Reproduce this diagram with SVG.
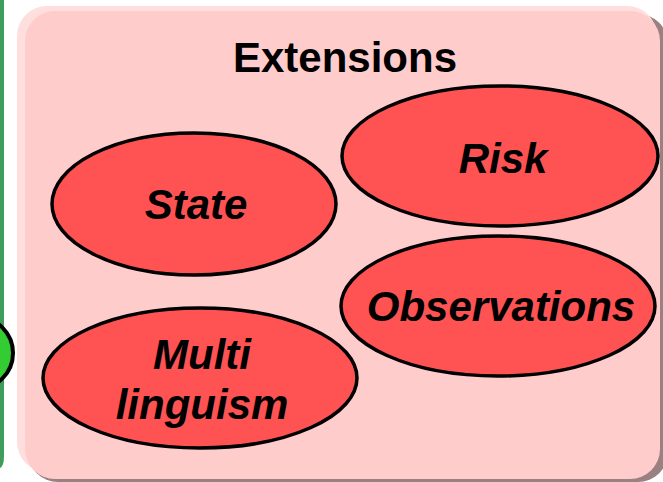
<svg xmlns="http://www.w3.org/2000/svg" width="663" height="482" viewBox="0 0 663 482">
  <style>
    .ext { fill: #FF5252; stroke: #000; stroke-width: 3.5; }
    .lbl { font-family: "Liberation Sans", Arial, sans-serif; font-weight: bold; font-style: italic; font-size: 42px; fill: #000; text-anchor: middle; }
    .title { font-family: "Liberation Sans", Arial, sans-serif; font-weight: bold; font-size: 42px; fill: #000; text-anchor: middle; }
  </style>

  <rect width="663" height="482" fill="#FFFFFF"/>

  <!-- neighbouring panel edge on the left -->
  <g id="left-panel">
    <path d="M0 0 H4 V456 Q4 466 0 468 Z" fill="#3E9D5C"/>
    <circle cx="-23" cy="353" r="36" fill="#33CC33" stroke="#000" stroke-width="4"/>
  </g>

  <!-- Extensions panel: shadow, highlight rim, face -->
  <g id="extensions-panel">
    <rect x="28" y="14" width="640" height="468" rx="30" fill="#9A8080"/>
    <rect x="17" y="6" width="640" height="466" rx="30" fill="#FFDEDE"/>
    <rect x="25" y="11" width="635" height="468" rx="30" fill="#FFCCCC"/>
    <text class="title" x="345" y="72">Extensions</text>
  </g>

  <g id="state">
    <ellipse class="ext" cx="194" cy="204" rx="142" ry="71"/>
    <text class="lbl" x="196" y="219">State</text>
  </g>

  <g id="risk">
    <ellipse class="ext" cx="500" cy="156" rx="158" ry="70"/>
    <text class="lbl" x="503" y="173">Risk</text>
  </g>

  <g id="observations">
    <ellipse class="ext" cx="498" cy="306" rx="157" ry="70"/>
    <text class="lbl" x="501" y="321">Observations</text>
  </g>

  <g id="multilinguism">
    <ellipse class="ext" cx="200" cy="378" rx="157" ry="70"/>
    <text class="lbl" x="202" y="369">Multi</text>
    <text class="lbl" x="202" y="419">linguism</text>
  </g>

  <g id="connectors"/>
</svg>
